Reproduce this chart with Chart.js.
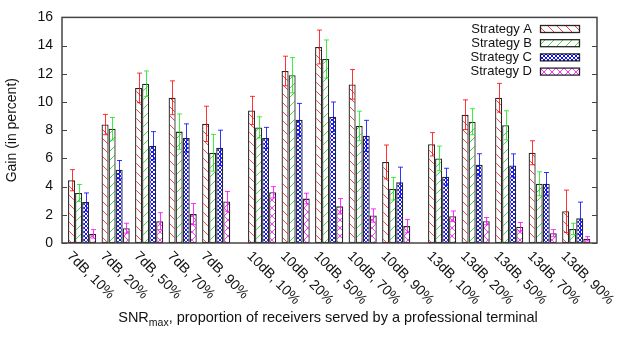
<!DOCTYPE html>
<html>
<head>
<meta charset="utf-8">
<script src="https://cdn.jsdelivr.net/npm/chart.js@4/dist/chart.umd.min.js"></script>
<style>
    body { margin: 0; background: #fff; }
    #wrap { width: 623px; height: 345px; position: relative; }
</style>
</head>
<body>
<div id="wrap"><canvas id="chart"></canvas></div>
<script>
// categories on the x axis (three SNR groups of five)
const categories = [
    "7dB, 10%", "7dB, 20%", "7dB, 50%", "7dB, 70%", "7dB, 90%",
    "10dB, 10%", "10dB, 20%", "10dB, 50%", "10dB, 70%", "10dB, 90%",
    "13dB, 10%", "13dB, 20%", "13dB, 50%", "13dB, 70%", "13dB, 90%"
];
const seriesNames = ["Strategy A", "Strategy B", "Strategy C", "Strategy D"];

// mean gain and error (+/-) per series
const gainA = [4.45, 8.4, 11.0, 10.3, 8.45, 9.4, 12.2, 13.9, 11.25, 5.75, 7.0, 9.1, 10.3, 6.4, 2.25];
const errA  = [0.75, 0.72, 1.05, 1.2, 1.25, 1.0, 1.05, 1.2, 1.05, 1.2, 0.83, 1.05, 1.02, 0.85, 1.5];
const gainB = [3.55, 8.1, 11.3, 7.9, 6.4, 8.2, 11.9, 13.05, 8.3, 3.85, 6.0, 8.6, 8.35, 4.2, 1.0];
const errB  = [0.6, 0.8, 0.9, 1.25, 1.3, 0.75, 1.25, 1.35, 1.05, 0.8, 0.87, 0.92, 1.03, 0.85, 0.4];
const gainC = [2.9, 5.2, 6.9, 7.45, 6.75, 7.45, 8.75, 8.95, 7.6, 4.3, 4.7, 5.55, 5.5, 4.2, 1.75];
const errC  = [0.65, 0.65, 1.0, 1.0, 1.25, 0.75, 1.15, 1.05, 1.1, 1.08, 0.6, 0.78, 0.82, 0.8, 1.15];
const gainD = [0.65, 1.05, 1.55, 2.05, 2.95, 3.6, 3.15, 2.6, 1.95, 1.2, 1.9, 1.55, 1.15, 0.7, 0.3];
const errD  = [0.3, 0.35, 0.6, 0.75, 0.7, 0.4, 0.38, 0.55, 0.47, 0.47, 0.37, 0.26, 0.3, 0.25, 0.15];

const yTicks = [0, 2, 4, 6, 8, 10, 12, 14, 16];

const GROUP_SIZE = 5;
const GROUP_GAP = 0.37;   // extra space between SNR groups, in category units
const FONT = "'Liberation Sans', Arial, Helvetica, sans-serif";

const gains = [gainA, gainB, gainC, gainD];
const errors = [errA, errB, errC, errD];
const errColors = ["rgba(255,0,0,0.8)", "rgba(0,230,0,0.75)", "rgba(0,0,255,0.8)", "rgba(255,0,255,0.8)"];

// x value of each category
const xPos = categories.map((c, i) => Math.floor(i / GROUP_SIZE) * GROUP_GAP + i);

// hatch patterns like gnuplot's fill patterns
function makePattern(kind) {
    const size = kind === "mesh" ? 4 : (kind === "cross" ? 8 : 9);
    const c = document.createElement("canvas");
    c.width = size; c.height = size;
    const g = c.getContext("2d");
    g.fillStyle = "#fff";
    g.fillRect(0, 0, size, size);
    g.lineWidth = 1;
    function diag(dir) {
        for (let k = -1; k <= 1; k++) {
            g.beginPath();
            if (dir === "back") {
                g.moveTo(k * size, 0);
                g.lineTo(k * size + size, size);
            } else {
                g.moveTo(k * size, size);
                g.lineTo(k * size + size, 0);
            }
            g.stroke();
        }
    }
    if (kind === "back") { g.strokeStyle = "#ff4040"; diag("back"); }
    if (kind === "fwd") { g.strokeStyle = "#3ae03a"; diag("fwd"); }
    if (kind === "mesh") { g.strokeStyle = "#1414f0"; diag("back"); diag("fwd"); }
    if (kind === "cross") { g.strokeStyle = "#ff38ff"; diag("back"); diag("fwd"); }
    return document.getElementById("chart").getContext("2d").createPattern(c, "repeat");
}
const patterns = [makePattern("back"), makePattern("fwd"), makePattern("mesh"), makePattern("cross")];

const datasets = seriesNames.map((name, s) => ({
    label: name,
    data: gains[s].map((v, i) => ({ x: xPos[i], y: v })),
    backgroundColor: patterns[s],
    borderColor: "rgba(0,0,0,0.85)",
    borderWidth: 1.3,
    borderSkipped: false,
    categoryPercentage: 0.84,
    barPercentage: 1.0
}));

const extras = {
    id: "extras",
    afterDatasetsDraw(chart) {
        const ctx = chart.ctx;
        const y = chart.scales.y;
        ctx.save();
        chart.data.datasets.forEach((ds, di) => {
            const meta = chart.getDatasetMeta(di);
            ctx.strokeStyle = errColors[di];
            ctx.lineWidth = 1;
            meta.data.forEach((bar, i) => {
                const v = gains[di][i], e = errors[di][i];
                const top = y.getPixelForValue(v + e);
                const bot = y.getPixelForValue(Math.max(0, v - e));
                const x = Math.round(bar.x) + 0.5;
                ctx.beginPath();
                ctx.moveTo(x, top); ctx.lineTo(x, bot);
                ctx.moveTo(x - 2.5, top); ctx.lineTo(x + 2.5, top);
                ctx.moveTo(x - 2.5, bot); ctx.lineTo(x + 2.5, bot);
                ctx.stroke();
            });
        });
        ctx.restore();
    },
    afterDraw(chart) {
        const ctx = chart.ctx;
        const a = chart.chartArea;
        const xs = chart.scales.x, ys = chart.scales.y;
        ctx.save();

        // frame and inward ticks
        ctx.strokeStyle = "#444";
        ctx.lineWidth = 1.5;
        ctx.strokeRect(a.left, a.top, a.right - a.left, a.bottom - a.top);
        ctx.lineWidth = 1;
        yTicks.forEach(t => {
            const py = Math.round(ys.getPixelForValue(t)) + 0.5;
            ctx.beginPath();
            ctx.moveTo(a.left, py); ctx.lineTo(a.left + 5, py);
            ctx.moveTo(a.right, py); ctx.lineTo(a.right - 5, py);
            ctx.stroke();
        });

        // rotated category labels
        ctx.fillStyle = "#111";
        ctx.font = "14px " + FONT;
        ctx.textAlign = "left";
        ctx.textBaseline = "middle";
        categories.forEach((lab, i) => {
            const px = xs.getPixelForValue(xPos[i]);
            ctx.save();
            ctx.translate(px - 13, a.bottom + 11);
            ctx.rotate(Math.PI / 4);
            ctx.fillText(lab, 0, 0);
            ctx.restore();
        });

        // x axis title with subscript
        const p1 = "SNR", sub = "max", p2 = ", proportion of receivers served by a professional terminal";
        ctx.textBaseline = "alphabetic";
        ctx.font = "14.5px " + FONT;
        const w1 = ctx.measureText(p1).width, w3 = ctx.measureText(p2).width;
        ctx.font = "10.5px " + FONT;
        const w2 = ctx.measureText(sub).width;
        let tx = 328 - (w1 + w2 + w3) / 2;
        const ty = 322;
        ctx.font = "14.5px " + FONT;
        ctx.fillText(p1, tx, ty);
        ctx.font = "10.5px " + FONT;
        ctx.fillText(sub, tx + w1, ty + 4);
        ctx.font = "14.5px " + FONT;
        ctx.fillText(p2, tx + w1 + w2, ty);

        // legend in the top right corner
        ctx.font = "13px " + FONT;
        ctx.textAlign = "right";
        ctx.textBaseline = "middle";
        seriesNames.forEach((name, s) => {
            const cy = 29 + s * 14.2;
            ctx.fillStyle = "#111";
            ctx.fillText(name, 532, cy);
            ctx.fillStyle = patterns[s];
            ctx.fillRect(540, cy - 3.5, 39, 7);
            ctx.strokeStyle = "rgba(0,0,0,0.85)";
            ctx.lineWidth = 1.3;
            ctx.strokeRect(540.5, cy - 3.5, 39, 7);
        });
        ctx.restore();
    }
};

Chart.defaults.font.family = FONT;
Chart.defaults.font.size = 14;
Chart.defaults.color = "#111";

new Chart(document.getElementById("chart"), {
    type: "bar",
    data: { datasets },
    options: {
        responsive: true,
        maintainAspectRatio: false,
        devicePixelRatio: 1,
        animation: false,
        layout: { padding: { top: 16, right: 26, left: 0, bottom: 0 } },
        plugins: {
            legend: { display: false },
            tooltip: { enabled: false }
        },
        scales: {
            x: {
                type: "linear",
                offset: false,
                min: -0.6,
                max: 15.36,
                grid: { display: false, drawTicks: false, offset: false },
                border: { display: false },
                ticks: { display: false },
                afterBuildTicks: scale => { scale.ticks = xPos.map(v => ({ value: v })); },
                afterFit: scale => { scale.height = 102; }
            },
            y: {
                min: 0,
                max: 16,
                grid: { display: false, drawTicks: false },
                border: { display: false },
                ticks: { stepSize: 2, padding: 9, color: "#111" },
                afterBuildTicks: scale => { scale.ticks = yTicks.map(v => ({ value: v })); },
                title: {
                    display: true,
                    text: "Gain (in percent)",
                    color: "#111",
                    font: { size: 14 },
                    padding: { top: 4, bottom: 0 }
                },
                afterFit: scale => { scale.width = 62; }
            }
        }
    },
    plugins: [extras]
});
</script>
</body>
</html>
